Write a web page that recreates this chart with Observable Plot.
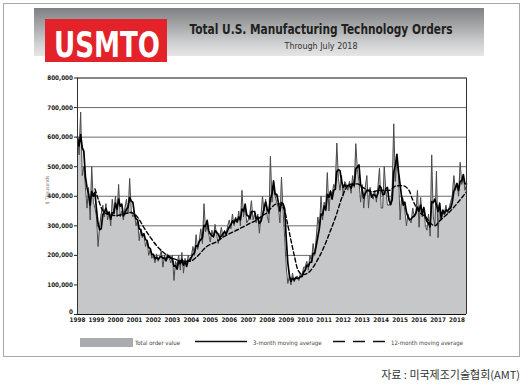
<!DOCTYPE html>
<html><head><meta charset="utf-8">
<script src="https://cdn.jsdelivr.net/npm/d3@7"></script>
<script src="https://cdn.jsdelivr.net/npm/@observablehq/plot@0.6"></script>
<style>
html,body{margin:0;padding:0;background:#fff;}
#page{position:relative;width:525px;height:385px;overflow:hidden;font-family:"DejaVu Sans Condensed","DejaVu Sans",sans-serif;}
#frame{position:absolute;left:3px;top:3px;width:517px;height:354px;border:1px solid #a8a8a8;box-sizing:border-box;}
#banner{position:absolute;left:34px;top:8px;width:450px;height:48px;background:linear-gradient(to bottom,#7e8083 0%,#a3a5a7 35%,#d0d1d2 75%,#e6e6e6 100%);}
#chart{position:absolute;left:0;top:60px;}
#overlay{position:absolute;left:0;top:0;}
#caption{position:absolute;right:5px;top:366px;font-family:"Noto Sans CJK KR",sans-serif;font-size:11px;color:#333;white-space:nowrap;}
#chart svg text{font-weight:bold;}
</style></head>
<body>
<div id="page">
  <div id="frame"></div>
  <div id="banner"></div>
  <div id="chart"></div>
  <svg id="overlay" width="525" height="385" xmlns="http://www.w3.org/2000/svg">
    <rect x="45" y="19" width="122" height="43" fill="#e3222a"/>
    <text x="54" y="57" font-family="DejaVu Sans Condensed, DejaVu Sans" font-weight="bold" font-size="36" fill="#fff" textLength="106" lengthAdjust="spacingAndGlyphs">USMTO</text>
    <text x="321" y="34" text-anchor="middle" font-family="DejaVu Sans Condensed, DejaVu Sans" font-weight="bold" font-size="14.5" fill="#231f20" textLength="263" lengthAdjust="spacingAndGlyphs">Total U.S. Manufacturing Technology Orders</text>
    <text x="321" y="49" text-anchor="middle" font-family="DejaVu Sans Condensed, DejaVu Sans" font-size="9.5" fill="#333" textLength="73" lengthAdjust="spacingAndGlyphs">Through July  2018</text>
    <text transform="translate(49,190) rotate(-90)" text-anchor="middle" font-family="DejaVu Sans Condensed, DejaVu Sans" font-size="5" fill="#777">$ Thousands</text>
    <rect x="80" y="338" width="53" height="9" fill="#a9abae"/>
    <text x="135" y="344.5" font-family="DejaVu Sans Condensed, DejaVu Sans" font-size="6" fill="#444">Total order value</text>
    <line x1="195" y1="341.5" x2="247" y2="341.5" stroke="#111" stroke-width="1.5"/>
    <text x="253" y="344.5" font-family="DejaVu Sans Condensed, DejaVu Sans" font-size="6" fill="#444">3-month moving average</text>
    <line x1="333" y1="341.5" x2="385" y2="341.5" stroke="#111" stroke-width="1.5" stroke-dasharray="12,8"/>
    <text x="391" y="344.5" font-family="DejaVu Sans Condensed, DejaVu Sans" font-size="6" fill="#444">12-month moving average</text>
  </svg>
  <div id="caption">자료 : 미국제조기술협회(AMT)</div>
</div>
<script>
// Monthly total order value, $ thousands / 1000 (Jan 1998 – Jul 2018)
const startYear = 1998;
const ordersK = [
  600, 540, 685, 470, 500, 430, 360, 430, 320, 500, 380, 360, // 1998
  330, 230, 300, 340, 370, 330, 375, 320, 345, 300, 390, 340, // 1999
  400, 330, 440, 330, 350, 320, 360, 390, 340, 460, 350, 330, // 2000
  340, 300, 320, 250, 290, 260, 270, 230, 250, 200, 220, 190, // 2001
  200, 175, 205, 180, 195, 215, 160, 200, 185, 205, 190, 175, // 2002
  200, 115, 180, 165, 200, 150, 210, 140, 190, 160, 200, 185, // 2003
  195, 230, 200, 270, 220, 250, 290, 240, 375, 280, 300, 270, // 2004
  245, 285, 260, 305, 270, 240, 265, 295, 260, 285, 270, 300, // 2005
  320, 290, 340, 300, 330, 310, 350, 300, 420, 330, 370, 310, // 2006
  320, 340, 385, 320, 340, 310, 340, 275, 330, 400, 350, 390, // 2007
  330, 310, 535, 380, 440, 400, 380, 360, 310, 465, 350, 260, // 2008
  160, 105, 130, 100, 140, 110, 125, 130, 115, 140, 130, 160, // 2009
  160, 180, 150, 200, 180, 240, 200, 260, 330, 290, 400, 320, // 2010
  380, 360, 480, 350, 420, 400, 440, 430, 580, 460, 420, 470, // 2011
  400, 450, 440, 420, 450, 410, 470, 430, 578, 490, 450, 380, // 2012
  440, 360, 430, 470, 360, 430, 400, 390, 420, 380, 430, 495, // 2013
  360, 360, 500, 420, 370, 370, 375, 420, 645, 450, 530, 470, // 2014
  320, 400, 390, 350, 300, 340, 320, 310, 360, 330, 340, 420, // 2015
  295, 396, 330, 360, 300, 285, 340, 265, 540, 330, 300, 485, // 2016
  260, 380, 330, 350, 340, 370, 340, 360, 380, 400, 470, 420, // 2017
  440, 400, 515, 440, 465, 420, 440                            // 2018
];
// 12-month moving average
const ma12Years = [1998.92, 1999.12, 1999.3, 1999.56, 2000.0, 2000.36, 2000.78, 2001.13, 2001.31, 2001.48,
  2001.83, 2002.18, 2002.53, 2002.88, 2003.41, 2003.93, 2004.28, 2004.81, 2005.33, 2005.68,
  2006.03, 2006.38, 2006.73, 2007.08, 2007.43, 2007.78, 2008.04, 2008.22, 2008.57, 2008.75,
  2008.92, 2009.09, 2009.27, 2009.44, 2009.62, 2009.88, 2010.23, 2010.58, 2010.93, 2011.28,
  2011.63, 2011.96, 2012.33, 2012.75, 2013.03, 2013.55, 2013.91, 2014.44, 2014.78, 2015.13,
  2015.48, 2015.65, 2015.83, 2016.09, 2016.36, 2016.58, 2016.85, 2017.06, 2017.58, 2017.93,
  2018.19, 2018.5];
const ma12K = [425, 385, 355, 340, 335, 338, 345, 332, 315, 296,
  262, 232, 210, 195, 182, 180, 195, 230, 246, 262,
  274, 285, 296, 308, 319, 336, 347, 362, 375, 370,
  350, 300, 245, 195, 150, 135, 145, 177, 220, 275,
  335, 400, 440, 442, 430, 415, 420, 420, 435, 436,
  419, 390, 365, 342, 330, 310, 300, 315, 345, 370,
  390, 415];
const yearTicks = [1998,1999,2000,2001,2002,2003,2004,2005,2006,2007,2008,2009,2010,2011,2012,2013,2014,2015,2016,2017,2018];
const yTicks = [0,100000,200000,300000,400000,500000,600000,700000,800000];
const gridLines = [100000,200000,300000,400000,500000,600000,700000];

const data = ordersK.map((v, i) => ({t: startYear + i / 12, v: v * 1000}));
const ma12 = ma12Years.map((t, i) => ({t, v: ma12K[i] * 1000}));

const chart = Plot.plot({
  width: 525, height: 270,
  marginLeft: 77, marginRight: 59, marginTop: 17.5, marginBottom: 16,
  style: {fontFamily: '"DejaVu Sans Condensed","DejaVu Sans",sans-serif', fontSize: "6.3px", color: "#222", background: "transparent", overflow: "visible"},
  x: {type: "linear", domain: [1998, 2018.5], ticks: yearTicks, tickFormat: d => String(d), tickSize: 0, tickPadding: 3.5, label: null},
  y: {domain: [0, 800000], ticks: yTicks, tickFormat: d => d3.format(",")(d), tickSize: 3, tickPadding: 1.5, label: null},
  marks: [
    Plot.ruleY(gridLines, {stroke: "#5a5a5a", strokeWidth: 0.9}),
    Plot.areaY(data, {x: "t", y: "v", fill: "#c6c7c9"}),
    Plot.lineY(data, {x: "t", y: "v", stroke: "#4a4a4a", strokeWidth: 1}),
    Plot.lineY(data, Plot.windowY({k: 3, anchor: "end"}, {x: "t", y: "v", stroke: "#000", strokeWidth: 1.7})),
    Plot.lineY(ma12, {x: "t", y: "v", stroke: "#000", strokeWidth: 1.4, strokeDasharray: "4,2.5", curve: "monotone-x"}),
    Plot.ruleY([0, 800000], {stroke: "#111", strokeWidth: 1}),
    Plot.ruleX([1998, 2018.5], {stroke: "#333", strokeWidth: 1})
  ]
});
// lift the "0" tick label slightly so it sits above the year labels, as in the reference
chart.querySelectorAll("text").forEach(t => {
  if (t.textContent === "0") t.setAttribute("transform", ((t.getAttribute("transform") || "") + " translate(0,-3)").trim());
});
document.getElementById("chart").appendChild(chart);
</script>
</body></html>
